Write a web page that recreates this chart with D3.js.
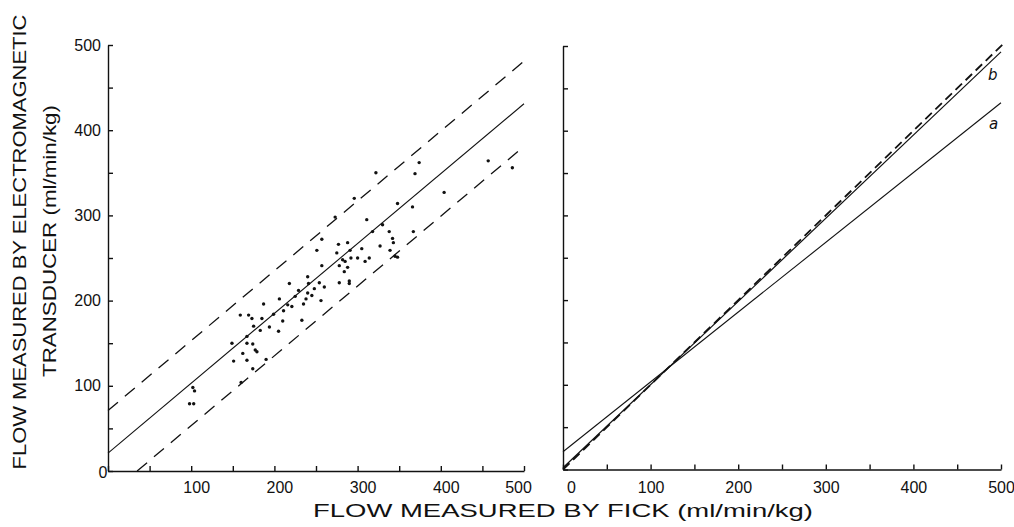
<!DOCTYPE html>
<html>
<head>
<meta charset="utf-8">
<script src="https://cdn.jsdelivr.net/npm/d3@7"></script>
<style>
  html, body { margin: 0; padding: 0; background: #fff; }
  svg { display: block; }
  .tick text { font-family: "Liberation Sans", Arial, sans-serif; font-size: 16px; fill: #111; }
  .domain, .tick line { stroke: #111; stroke-width: 1.4; }
</style>
</head>
<body>
<svg id="chart" width="1014" height="527"></svg>
<script>
// Flow measured by Fick (x) vs. electromagnetic transducer (y), ml/min/kg
const fickFlow = [102, 104, 98, 103, 160, 151, 167, 190, 174, 162, 177, 179, 149, 167, 174, 167,
  183, 205, 175, 194, 159, 169, 173, 185, 199, 210, 233, 187, 211, 206, 216, 221, 218, 225,
  229, 235, 238, 245, 248, 254, 241, 240, 256, 260, 257, 251, 257, 240, 275, 277, 288, 291,
  305, 327, 339, 345, 348, 282, 285, 292, 300, 309, 314, 278, 288, 284, 278, 290, 290, 273,
  311, 330, 318, 338, 367, 342, 343, 296, 348, 366, 404, 322, 369, 374, 457, 486];
const emFlow = [98, 94, 79, 79, 104, 129, 130, 131, 120, 138, 142, 140, 150, 150, 149, 158,
  165, 164, 170, 169, 183, 183, 179, 179, 184, 176, 177, 196, 188, 202, 195, 193, 220, 205,
  212, 196, 202, 206, 214, 221, 220, 228, 200, 216, 241, 259, 272, 209, 256, 266, 268, 259,
  261, 264, 259, 252, 251, 248, 246, 250, 250, 246, 250, 241, 239, 234, 221, 223, 220, 298,
  295, 289, 281, 281, 281, 273, 268, 320, 314, 310, 327, 350, 349, 362, 364, 356];

// Left panel: regression line and its limits (endpoints in ml/min/kg)
const regressionX = [0, 500];
const regressionY = [21, 431];
const upperLimitX = [0, 500];
const upperLimitY = [71, 481];
const lowerLimitX = [35, 500];
const lowerLimitY = [0, 381];

// Right panel: line a, line b and line of identity
const lineAX = [0, 500];
const lineAY = [21, 433];
const lineBX = [0, 500];
const lineBY = [2, 493];
const identityX = [0, 502];
const identityY = [0, 502];

const tickValues = d3.range(0, 501, 50);
const labelValues = [0, 100, 200, 300, 400, 500];

const svg = d3.select("#chart");
const ink = "#111";

// Scales for each panel
const xL = d3.scaleLinear().domain([0, 500]).range([108, 524]);
const yL = d3.scaleLinear().domain([0, 500]).range([471, 45]);
const xR = d3.scaleLinear().domain([0, 500]).range([563, 1001]);
const yR = d3.scaleLinear().domain([0, 500]).range([469.5, 46]);

const fmt = d => (d % 100 === 0 && d > 0) ? String(d) : "";

// Left panel axes
const gxL = svg.append("g").attr("transform", `translate(0,${yL(0)})`)
  .call(d3.axisBottom(xL).tickValues(tickValues).tickSize(-5).tickSizeOuter(0).tickFormat(fmt));
gxL.selectAll(".tick text").attr("y", 11).attr("dy", "0.71em")
  .attr("dx", d => d === 500 ? -6 : 5);

const gyL = svg.append("g").attr("transform", `translate(${xL(0)},0)`)
  .call(d3.axisLeft(yL).tickValues(tickValues).tickSize(-5).tickSizeOuter(0).tickFormat(fmt));
gyL.selectAll(".tick text").attr("x", -7);

svg.append("text").attr("x", xL(0) - 5).attr("y", yL(0) + 7)
  .attr("text-anchor", "middle")
  .style("font-family", "Liberation Sans, Arial, sans-serif").style("font-size", "16px")
  .attr("fill", ink).text(labelValues[0]);

// Right panel axes
const gxR = svg.append("g").attr("transform", `translate(0,${yR(0)})`)
  .call(d3.axisBottom(xR).tickValues(tickValues).tickSize(-5).tickSizeOuter(0)
    .tickFormat(d => labelValues.includes(d) ? String(d) : ""));
gxR.selectAll(".tick text").attr("y", 12).attr("dy", "0.71em")
  .attr("dx", d => d === 0 ? 8 : 0);

svg.append("g").attr("transform", `translate(${xR(0)},0)`)
  .call(d3.axisLeft(yR).tickValues(tickValues).tickSize(-5).tickSizeOuter(0).tickFormat(""));

// Line helper
function drawLine(xs, ys, sx, sy, opts) {
  const pts = xs.map((v, i) => [sx(v), sy(ys[i])]);
  svg.append("path")
    .attr("d", d3.line()(pts))
    .attr("fill", "none")
    .attr("stroke", ink)
    .attr("stroke-width", opts.width || 1.2)
    .attr("stroke-dasharray", opts.dash || null);
}

// Left panel lines
drawLine(regressionX, regressionY, xL, yL, { width: 1.1 });
drawLine(upperLimitX, upperLimitY, xL, yL, { width: 1.3, dash: "13,9" });
drawLine(lowerLimitX, lowerLimitY, xL, yL, { width: 1.3, dash: "13,9" });

// Scatter points
svg.append("g").selectAll("circle")
  .data(fickFlow.map((v, i) => [v, emFlow[i]]))
  .join("circle")
  .attr("cx", d => xL(d[0]))
  .attr("cy", d => yL(d[1]))
  .attr("r", 1.7)
  .attr("fill", ink);

// Right panel lines
drawLine(lineAX, lineAY, xR, yR, { width: 1.1 });
drawLine(lineBX, lineBY, xR, yR, { width: 1.2 });
drawLine(identityX, identityY, xR, yR, { width: 1.8, dash: "9,5" });

// Line labels
svg.append("text").attr("x", xR(lineBX[1]) - 13).attr("y", 80)
  .style("font-family", "DejaVu Sans, sans-serif").style("font-style", "italic").style("font-size", "15px")
  .attr("fill", ink).text("b");
svg.append("text").attr("x", xR(lineAX[1]) - 12).attr("y", 129)
  .style("font-family", "DejaVu Sans, sans-serif").style("font-style", "italic").style("font-size", "15px")
  .attr("fill", ink).text("a");

// Axis titles
const titleFont = "Liberation Sans, Arial, sans-serif";
svg.append("text")
  .attr("x", 563).attr("y", 517)
  .attr("text-anchor", "middle")
  .attr("textLength", 500).attr("lengthAdjust", "spacingAndGlyphs")
  .style("font-family", titleFont).style("font-size", "19px")
  .attr("fill", ink).text("FLOW MEASURED BY FICK (ml/min/kg)");

svg.append("text")
  .attr("transform", "translate(26,242) rotate(-90)")
  .attr("text-anchor", "middle")
  .attr("textLength", 455).attr("lengthAdjust", "spacingAndGlyphs")
  .style("font-family", titleFont).style("font-size", "19px")
  .attr("fill", ink).text("FLOW MEASURED BY ELECTROMAGNETIC");

svg.append("text")
  .attr("transform", "translate(56,241) rotate(-90)")
  .attr("text-anchor", "middle")
  .attr("textLength", 272).attr("lengthAdjust", "spacingAndGlyphs")
  .style("font-family", titleFont).style("font-size", "19px")
  .attr("fill", ink).text("TRANSDUCER (ml/min/kg)");
</script>
</body>
</html>
